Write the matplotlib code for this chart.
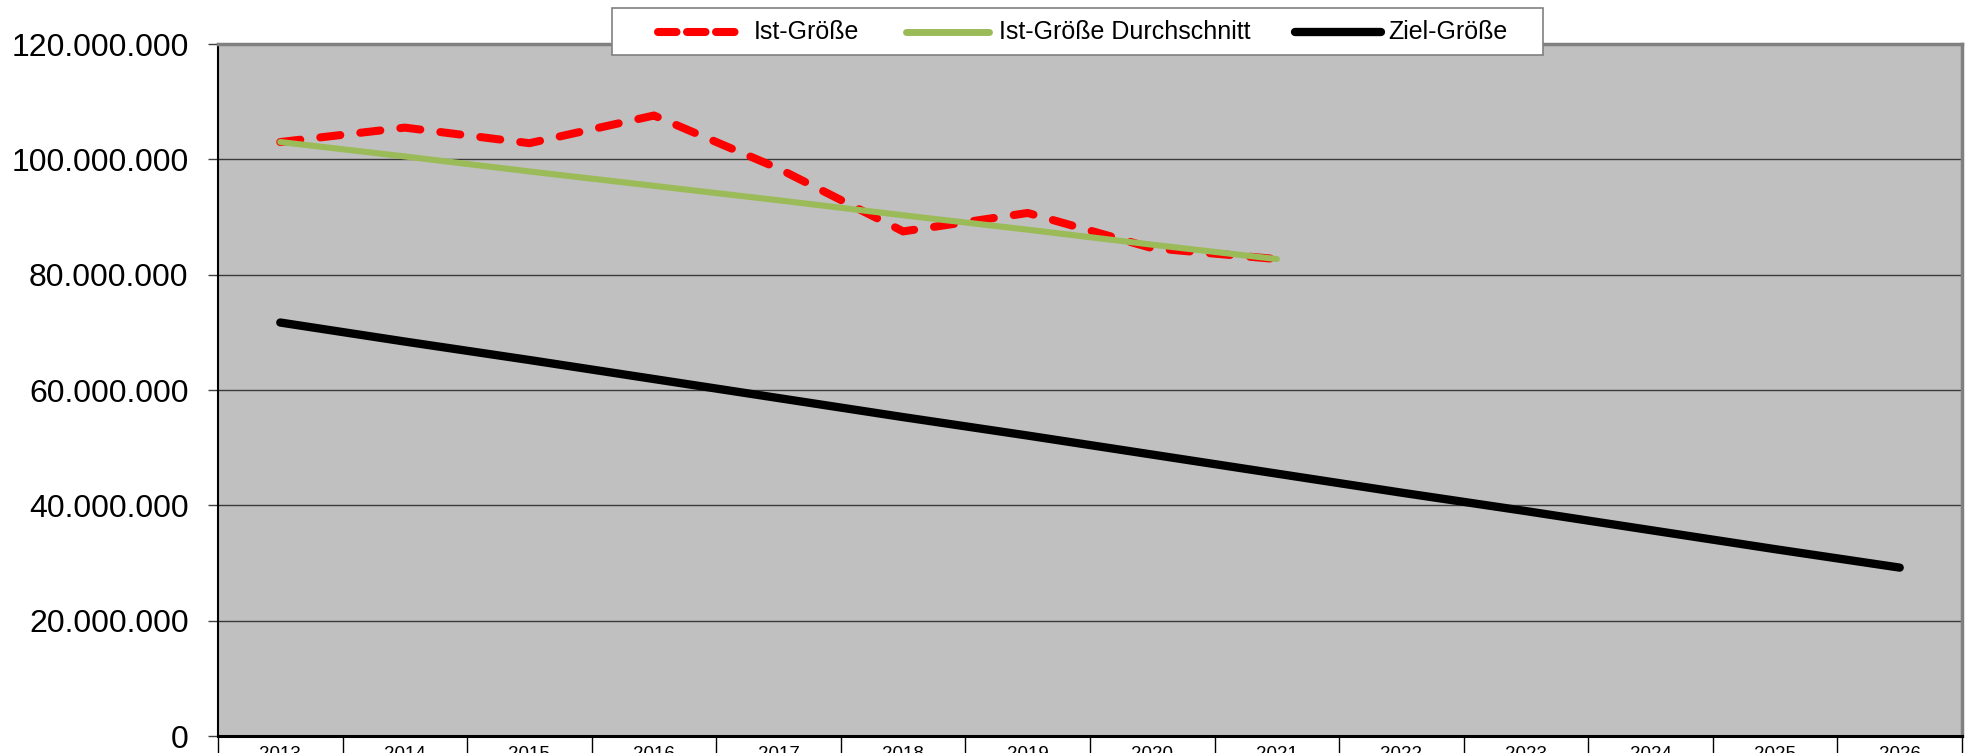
import matplotlib
matplotlib.use("Agg")
import matplotlib.pyplot as plt
from matplotlib.lines import Line2D
from matplotlib.patches import Rectangle
from matplotlib.ticker import FuncFormatter, FixedLocator

plt.rcParams['font.family'] = ['Liberation Sans', 'DejaVu Sans']

# data (values in million)
years = ["2013", "2014", "2015", "2016", "2017", "2018", "2019",
         "2020", "2021", "2022", "2023", "2024", "2025", "2026"]
ist = [103.0, 105.5, 102.8, 107.6, 98.4, 87.5, 90.7, 84.6, 82.7]
ist_avg = [103.0, 100.5, 97.9, 95.4, 92.9, 90.3, 87.8, 85.2, 82.7]
ziel = [71.7, 68.4, 65.2, 61.9, 58.6, 55.3, 52.1, 48.8, 45.5, 42.2, 39.0, 35.7, 32.4, 29.2]
labels = ["Ist-Größe", "Ist-Größe Durchschnitt", "Ziel-Größe"]

W, H = 1968, 753
fig = plt.figure(figsize=(W / 100, H / 100), dpi=100)
ax = fig.add_axes([218 / W, (H - 736) / H, (1962 - 218) / W, (736 - 44) / H])
ax.set_facecolor("#c0c0c0")

x_ist = range(len(ist))
x_ziel = range(len(ziel))
ist_v = [v * 1e6 for v in ist]
avg_v = [v * 1e6 for v in ist_avg]
ziel_v = [v * 1e6 for v in ziel]

red_style = dict(color="#ff0000", lw=5.8, dashes=(2.5, 2.5), dash_capstyle="round",
                 solid_capstyle="round")
ax.plot(x_ist, ist_v, zorder=3, **red_style)
ax.plot(x_ist, avg_v, color="#9bbb59", lw=4.4, solid_capstyle="round", zorder=4)
ax.plot(x_ziel, ziel_v, color="#000000", lw=6.0, solid_capstyle="round", zorder=5)

ax.set_xlim(-0.5, len(years) - 0.5)
ax.set_ylim(0, 120e6)

# y axis
ax.set_yticks([i * 20e6 for i in range(7)])
ax.yaxis.set_major_formatter(FuncFormatter(lambda v, p: f"{int(round(v)):,}".replace(",", ".")))
ax.tick_params(axis="y", direction="out", length=7.2, width=1, color="#404040",
               labelsize=23, pad=14)
ax.grid(axis="y", color="#3a3a3a", lw=1.0, zorder=1)
ax.set_axisbelow(True)

# x axis as table cells
ax.set_xticks(range(len(years)))
ax.set_xticklabels(years)
ax.xaxis.set_minor_locator(FixedLocator([i - 0.5 for i in range(len(years) + 1)]))
ax.tick_params(axis="x", which="major", length=0, labelsize=13.5, pad=7)
ax.tick_params(axis="x", which="minor", direction="out", length=20, width=1, color="black")

for side in ["top", "right"]:
    ax.spines[side].set_color("#808080")
    ax.spines[side].set_linewidth(2.5)
ax.spines["left"].set_color("black")
ax.spines["left"].set_linewidth(1.5)
ax.spines["bottom"].set_color("black")
ax.spines["bottom"].set_linewidth(2.2)

# legend box
def fx(px):
    return px / W

def fy(py):
    return 1 - py / H

fig.add_artist(Rectangle((fx(612), fy(55)), fx(1543) - fx(612), fy(8) - fy(55),
                         transform=fig.transFigure, facecolor="white",
                         edgecolor="#808080", lw=1.2, zorder=10))
ly = fy(32)
handles = [
    (658, 744, dict(color="#ff0000", lw=5.8, dashes=(2.3, 1.3), dash_capstyle="round")),
    (906, 989, dict(color="#9bbb59", lw=5.0, solid_capstyle="round")),
    (1295, 1381, dict(color="#000000", lw=6.0, solid_capstyle="round")),
]
text_x = [754, 999, 1388]
for (x0, x1, st), tx, lab in zip(handles, text_x, labels):
    fig.add_artist(Line2D([fx(x0), fx(x1)], [ly, ly], transform=fig.transFigure,
                          zorder=11, **st))
    fig.text(fx(tx), ly, lab, fontsize=18, va="center", ha="left", zorder=12)

fig.savefig("out.png", dpi=100)
